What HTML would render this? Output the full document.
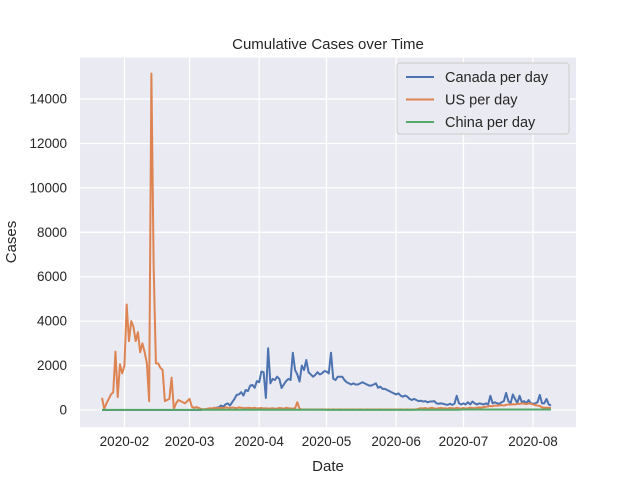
<!DOCTYPE html>
<html><head><meta charset="utf-8"><style>
body{margin:0;background:#fff}
svg text{font-family:"Liberation Sans","DejaVu Sans",sans-serif;fill:#262626}
</style></head><body>
<svg id="c" width="640" height="480"></svg>
<script>
const startDate = "2020-01-22";
const yTicks = [0,2000,4000,6000,8000,10000,12000,14000];
const xTickLabels = ["2020-02","2020-03","2020-04","2020-05","2020-06","2020-07","2020-08"];
const xTickDays = [10,39,70,100,131,161,192];
const seriesNames = ["Canada per day","US per day","China per day"];
const canada = [
0,0,0,0,0,0,0,0,0,0,0,0,0,0,0,0,0,0,0,0,
0,0,0,0,0,0,0,0,0,0,0,0,0,0,0,0,0,0,0,0,
0,0,0,0,0,20,30,40,50,60,80,
100,120,200,150,250,300,200,350,500,680,
700,800,650,900,850,1100,1130,1000,1300,1250,
1730,1700,540,2780,1200,1400,1350,1500,1400,990,
1150,1300,1400,1350,2580,1800,1600,1280,2000,1800,
2250,1700,1600,1500,1580,1700,1600,1650,1750,1730,
1650,2580,1410,1350,1500,1500,1500,1350,1250,1200,
1150,1200,1150,1150,1200,1250,1200,1150,1100,1100,
1150,1200,1000,1050,950,950,900,850,800,750,
700,750,650,600,650,600,500,450,500,450,
400,420,380,400,350,380,380,400,300,280,
300,280,250,230,280,230,280,640,300,250,
300,250,350,250,380,300,250,300,280,250,
300,250,640,300,350,300,280,350,400,770,
400,300,700,500,300,640,350,400,300,450,
300,280,300,350,680,300,300,500,250,200];
const us = [550,50,300,500,700,800,2630,580,2060,1650,2000,4750,3100,4000,3750,3100,3500,2600,3000,2600,2100,400,15150,6500,2100,2100,1900,1800,400,450,500,1460,50,300,450,400,350,300,400,500,150,100,130,100,50,30,
40,60,80,70,100,80,90,100,80,120,100,90,110,100,80,120,100,90,80,100,90,80,100,70,80,90,70,80,60,70,80,60,70,90,80,60,100,80,70,60,80,
350,60,
20,30,20,30,20,20,30,20,20,30,20,20,30,20,30,20,20,30,20,20,30,20,20,30,20,20,30,20,20,30,20,20,30,20,20,30,20,20,30,20,20,30,20,20,30,20,20,30,20,20,30,20,
60,80,70,90,60,80,100,70,60,80,90,70,80,60,90,80,70,100,80,60,90,70,80,100,90,80,100,120,110,130,
150,160,180,170,200,190,210,220,200,230,250,240,260,250,280,270,300,290,260,300,280,250,220,200,180,
120,100,100,100,80];
const china = [
5,5,5,5,5,5,5,5,5,5,5,5,5,5,5,5,5,5,5,5,
5,5,5,5,5,5,5,5,5,5,5,5,5,5,5,5,5,5,5,5,
10,10,10,10,10,10,10,10,10,10,10,10,10,10,10,10,10,10,10,10,
10,10,10,10,10,10,10,10,10,10,10,10,10,10,10,10,10,10,10,10,
10,10,10,10,10,10,10,10,10,10,10,10,10,10,10,10,10,10,10,10,
5,5,5,5,5,5,5,5,5,5,5,5,5,5,5,5,5,5,5,5,
5,5,5,5,5,5,5,5,5,5,5,5,5,5,5,5,5,5,5,5,
10,10,10,10,10,10,10,10,10,10,10,10,10,10,10,10,10,10,10,10,
20,20,20,20,20,20,20,20,20,20,20,20,20,20,20,20,20,20,20,20,
20,20,20,20,20,20,20,20,20,20,20,20,20,20,20,20,20,20,20,20,
20];
const colors = ["#4c72b0","#dd8452","#55a868"];

const L=80,R=576,T=57.6,B=427.2;
const xs = d => 102 + d*2.245;
const ys = v => 410 - v*0.02221;
const svg = document.getElementById('c');
const NS="http://www.w3.org/2000/svg";
function mk(tag, attrs, parent){const e=document.createElementNS(NS,tag);for(const k in attrs)e.setAttribute(k,attrs[k]);(parent||svg).appendChild(e);return e;}

const bg = mk('rect',{x:L,y:T,width:R-L,height:B-T,fill:'#eaeaf2'});



yTicks.forEach(v=>{
  const y=ys(v);
  const g=mk('line',{x1:L,x2:R,y1:y,y2:y,stroke:'#fff','stroke-width':1.3});
  
  
  const t=mk('text',{x:67,y:y+4.5,'text-anchor':'end','font-size':13.5});
  t.textContent=v;
  
  
});
xTickDays.forEach((d,i)=>{
  const x=xs(d);
  const g=mk('line',{x1:x,x2:x,y1:T,y2:B,stroke:'#fff','stroke-width':1.3});
  
  
  const t=mk('text',{x:x,y:446,'text-anchor':'middle','font-size':13.5});
  t.textContent=xTickLabels[i];
  
  
});

[canada,us,china].forEach((s,i)=>{
  const p=mk('polyline',{points:s.map((v,d)=>xs(d).toFixed(2)+','+ys(v).toFixed(2)).join(' '),fill:'none',stroke:colors[i],'stroke-width':2,'stroke-linejoin':'round'});
  
  
});

const title=mk('text',{x:328,y:49,'text-anchor':'middle','font-size':15});
title.textContent='Cumulative Cases over Time';


const xl=mk('text',{x:328,y:471,'text-anchor':'middle','font-size':15});
xl.textContent='Date';


const yl=mk('text',{x:0,y:0,'text-anchor':'middle','font-size':15,transform:'translate(16,242) rotate(-90)'});
yl.textContent='Cases';



const lg=mk('rect',{x:397,y:63,width:172,height:71,rx:3,fill:'#eaeaf2',stroke:'#cccccc','stroke-width':1});


seriesNames.forEach((n,i)=>{
  const y=77+i*22.5;
  const ln=mk('line',{x1:406,x2:434,y1:y,y2:y,stroke:colors[i],'stroke-width':2});
  
  
  const t=mk('text',{x:445,y:y+5,'font-size':14.5});
  t.textContent=n;
  
  
});
</script>
</body></html>
